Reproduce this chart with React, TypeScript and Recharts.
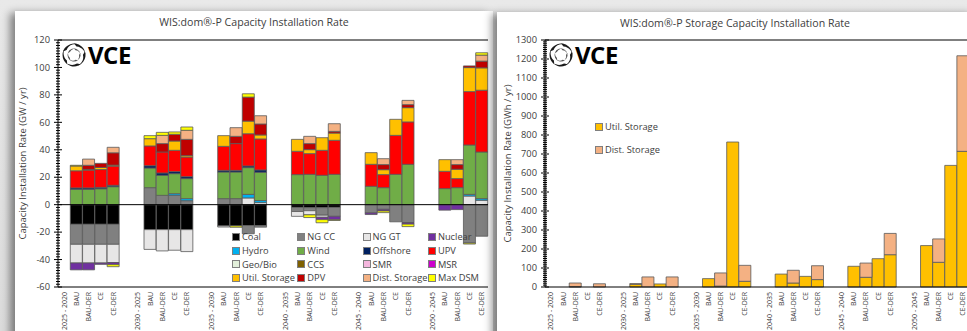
import React from 'react';
import { BarChart, Bar, XAxis, YAxis, ReferenceLine, Legend } from 'recharts';

const periods = ['2025 - 2020', '2030 - 2025', '2035 - 2030', '2040 - 2035', '2045 - 2040', '2050 - 2045'];
const scenarios = ['BAU', 'BAU-DER', 'CE', 'CE-DER'];

// GW / yr, four scenarios per period (BAU, BAU-DER, CE, CE-DER)
const coal = [-14.3, -14.3, -14.3, -14.3, -18.2, -18.2, -18.2, -18.2, -15.5, -15.5, -15.2, -15.2, -2, -2.2, -2.2, -2, 0, 0, 0, 0, 0, 0, 0, 0];
const ngCC = [-14.6, -14.6, -14.6, -14.6, 12.4, 6.8, 6.8, 2.9, 4.4, 4.4, -6, -1.2, -3, -2.2, -5.5, -6.5, -6, -3.4, -12.5, -13, 0, 0, -28, -23];
const ngGT = [-13.6, -13.6, -13.6, -13.3, -14.4, -15.5, -15, -16, -0.8, 0, 4.9, 1.5, -3.5, -3, -1.5, 0, 0, 0, 0, 0, 0, 0, 6.3, 3.2];
const nuclear = [-5, -5, -1, -1.5, 0, 0, 0, 0, 0, 0, 0, 0, 0, 0, -1.7, -2.5, -1.2, -1.2, 0, -1.2, -4, -3.6, 0, 0];
const hydro = [0, 0, 0, 0, 0, 0, 1.2, 1.5, 0, 0, 2.6, 1.5, 0, 0, 0, 0, 0, 0, 0, 0, 0, 0, 1.2, 1.2];
const wind = [11.2, 11.2, 11.6, 13.1, 14.3, 14.6, 14.6, 14.6, 19.4, 19.4, 19.5, 20.6, 21.9, 22.1, 21.4, 22.1, 13.4, 12.4, 22.1, 29.4, 11.7, 12.4, 36, 34];
const offshore = [1, 1, 1, 1, 1.7, 1.7, 1.5, 1.4, 1.2, 1.2, 1.2, 1.7, 0, 0, 0, 0, 0, 0, 0, 0, 0, 0, 0, 0];
const upv = [12.5, 13, 13, 14, 14.4, 15.3, 15.5, 14.3, 17.5, 19.5, 23.5, 22.6, 17, 15.1, 18.2, 24.8, 16, 9.5, 28.4, 30.9, 12.6, 6.6, 38.9, 45];
const geoBio = [0, 0, 0, 0, 0, 0, 0, 0, 0, 0, 0, 0, 0, 0, 0, 0, 0, 0, 0, 0, 0, 0, 0, 0];
const ccs = [0, 0, 0, 0, 0, 0, 0, 0, 0, 0, 0, 0, 0, 0, 0, 0, 0, 0, 0, 0, 0, 0, 0, 0];
const smr = [0, 0, 0, 0, 0, 0, 0, 0, 0, 0, 0, 0, 0, 0, 0, 0, 0, 0, 0, 0, 0, 0, 0, 0];
const msr = [0, 0, 0, 0, 0, 0, 0, 0, 0, 0, 0, 0, 0, 0, 0, 0, 0, 0, 0, 0, 0, 0, 0, 0];
const utilStorage = [3.5, 0.5, 1.5, 0.7, 5.3, 0, 6.8, 1, 7.8, 0, 9.2, 2.9, 8.7, 2.9, 9.2, 5.3, 8.5, 3.6, 11.7, 10.4, 8.5, 6.8, 17.5, 16.3];
const dpv = [0, 3, 3, 9, 0, 6.1, 4.9, 11.9, 0, 5.3, 17.5, 8, 0, 4.4, 0, 1.2, 0, 3.7, 0, 2.2, 0, 3.4, 1.2, 4.9];
const distStorage = [0, 4.5, 0, 4, 0, 6, 0, 6.6, 0, 6.3, 0, 6, 0, 5.3, 0, 5.6, 0, 4.3, 0, 3.1, 0, 3.6, 0, 4.4];
const maxDSM = [0.5, 0, 0, -1.5, 2.2, 2.2, 1.7, 2.4, 0, -1, 2.4, 0, 0, -2, -2.3, -0.5, 0, -1.2, 0, -1.8, 0, 0, -0.7, 1.7];

// GWh / yr
const utilStorageGWh = [0, 2, 0, 0, 14, 0, 16, 0, 44, 5, 763, 30, 68, 21, 56, 39, 109, 51, 149, 170, 218, 130, 640, 714];
const distStorageGWh = [0, 19, 0, 17, 4, 53, 0, 53, 0, 69, 0, 84, 0, 67, 0, 73, 0, 75, 0, 112, 0, 123, 0, 503];

const capacityTicks = Array.from({ length: 91 }, (_, i) => 120 - i * 2);
const storageTicks = Array.from({ length: 131 }, (_, i) => 1300 - i * 10);

type Series = { key: string; name: string; color: string; values: number[] };

const capacitySeries: Series[] = [
  { key: 'coal', name: 'Coal', color: '#000000', values: coal },
  { key: 'ngcc', name: 'NG CC', color: '#808080', values: ngCC },
  { key: 'nggt', name: 'NG GT', color: '#e7e6e6', values: ngGT },
  { key: 'nuclear', name: 'Nuclear', color: '#7030a0', values: nuclear },
  { key: 'hydro', name: 'Hydro', color: '#00b0f0', values: hydro },
  { key: 'wind', name: 'Wind', color: '#70ad47', values: wind },
  { key: 'offshore', name: 'Offshore', color: '#002060', values: offshore },
  { key: 'upv', name: 'UPV', color: '#ff0000', values: upv },
  { key: 'geobio', name: 'Geo/Bio', color: '#e2efda', values: geoBio },
  { key: 'ccs', name: 'CCS', color: '#7f6000', values: ccs },
  { key: 'smr', name: 'SMR', color: '#f4b6dd', values: smr },
  { key: 'msr', name: 'MSR', color: '#cc00cc', values: msr },
  { key: 'util', name: 'Util. Storage', color: '#ffc000', values: utilStorage },
  { key: 'dpv', name: 'DPV', color: '#c00000', values: dpv },
  { key: 'dist', name: 'Dist. Storage', color: '#f4b183', values: distStorage },
  { key: 'dsm', name: 'Max DSM', color: '#ffff00', values: maxDSM },
];

const storageSeries: Series[] = [
  { key: 'util', name: 'Util. Storage', color: '#ffc000', values: utilStorageGWh },
  { key: 'dist', name: 'Dist. Storage', color: '#f4b183', values: distStorageGWh },
];

function buildRows(series: Series[]) {
  const rows: Record<string, any>[] = [];
  periods.forEach((p, g) => {
    rows.push({ name: p });
    scenarios.forEach((s, i) => {
      const row: Record<string, any> = { name: s };
      series.forEach((se) => {
        row[se.key] = se.values[g * 4 + i];
      });
      rows.push(row);
    });
    if (g < periods.length - 1) rows.push({ name: '' });
  });
  return rows;
}

const FONT = 'Open Sans';
const TEXT = '#404040';

const XTick = (props: any) => {
  const { x, y, payload } = props;
  return (
    <text
      transform={`translate(${x + 2.4},${y + 5}) rotate(-90)`}
      textAnchor="end"
      fontSize={7}
      fontFamily={FONT}
      fill={TEXT}
    >
      {payload.value}
    </text>
  );
};

const makeYTick = (major: number) => (props: any) => {
  const { x, y, payload } = props;
  const isMajor = payload.value % major === 0;
  return (
    <g>
      <line x1={isMajor ? x - 4 : x - 2} x2={isMajor ? x + 4 : x + 2} y1={y} y2={y} stroke="#000" strokeWidth={1} />
      {isMajor && (
        <text x={x - 8} y={y} dy="0.35em" textAnchor="end" fontSize={9.3} fontFamily={FONT} fill={TEXT}>
          {payload.value}
        </text>
      )}
    </g>
  );
};

function LegendGrid({ series, cols, colWidth, rowHeight }: { series: Series[]; cols: number; colWidth: number; rowHeight: number }) {
  return (
    <div style={{ position: 'relative', width: cols * colWidth, height: Math.ceil(series.length / cols) * rowHeight }}>
      {series.map((s, i) => (
        <div
          key={s.key}
          style={{
            position: 'absolute',
            left: (i % cols) * colWidth,
            top: Math.floor(i / cols) * rowHeight,
            height: rowHeight,
            display: 'flex',
            alignItems: 'center',
            gap: 2,
            whiteSpace: 'nowrap',
          }}
        >
          <div style={{ width: 6, height: 6, backgroundColor: s.color, border: '0.8px solid #7f7f7f' }} />
          <span style={{ fontFamily: FONT, fontSize: 9.3, color: TEXT }}>{s.name}</span>
        </div>
      ))}
    </div>
  );
}

function VceLogo({ left, top }: { left: number; top: number }) {
  const blades = [0, 72, 144, 216, 288];
  return (
    <svg width={90} height={30} style={{ position: 'absolute', left, top, overflow: 'visible' }}>
      <g transform="translate(12,13)">
        {blades.map((a) => (
          <g key={a} transform={`rotate(${a})`}>
            <path d="M 0 -11.5 A 11.5 11.5 0 0 1 11 3.2 A 9.5 9.5 0 0 0 2.5 -8.6 Z" fill="#1a1a1a" />
            <path d="M 0 -6.5 A 6.5 6.5 0 0 1 6.2 2 A 5.2 5.2 0 0 0 1.5 -4.8 Z" fill="#555" />
          </g>
        ))}
      </g>
      <text x={26} y={22} fontFamily={FONT} fontWeight={700} fontSize={24} fill="#000" letterSpacing={-0.5}>
        VCE
      </text>
    </svg>
  );
}

const capacityRows = buildRows(capacitySeries);
const storageRows = buildRows(storageSeries);

const panelStyle: React.CSSProperties = {
  position: 'absolute',
  backgroundColor: '#fff',
  boxShadow: '-5px 2px 8px rgba(0,0,0,0.45)',
  height: 340,
};

const titleStyle: React.CSSProperties = {
  position: 'absolute',
  top: 4,
  left: 0,
  textAlign: 'center',
  fontFamily: FONT,
  fontSize: 10.6,
  color: TEXT,
};

export default function App() {
  return (
    <div
      style={{
        position: 'fixed',
        left: 0,
        top: 0,
        width: 967,
        height: 331,
        overflow: 'hidden',
        background: 'linear-gradient(to bottom, #e9e9e9, #dcdcdc)',
      }}
    >
      {/* Capacity panel */}
      <div style={{ ...panelStyle, left: 15, top: 11, width: 478 }}>
        <div style={{ ...titleStyle, width: 478 }}>WIS:dom®-P Capacity Installation Rate</div>
        <BarChart
          width={478}
          height={320}
          data={capacityRows}
          stackOffset="sign"
          barCategoryGap={0}
          barGap={0}
          margin={{ top: 29, right: 5, left: 0, bottom: 0 }}
        >
          <XAxis
            dataKey="name"
            interval={0}
            height={44}
            tickSize={0}
            tickMargin={0}
            tick={<XTick />}
            axisLine={{ stroke: '#000' }}
            tickLine={false}
          />
          <YAxis
            domain={[-60, 120]}
            ticks={capacityTicks}
            interval={0}
            width={43}
            tickSize={0}
            tickMargin={0}
            tickLine={false}
            tick={makeYTick(20)}
            axisLine={{ stroke: '#000' }}
            allowDataOverflow
            label={{
              value: 'Capacity Installation Rate (GW / yr)',
              angle: -90,
              position: 'center',
              dx: -14,
              fontSize: 9.5,
              fontFamily: FONT,
              fill: TEXT,
            }}
          />
          <YAxis yAxisId="frame" orientation="right" width={0} domain={[0, 1]} tick={false} tickLine={false} axisLine={{ stroke: '#000' }} />
          <ReferenceLine y={120} stroke="#000" strokeWidth={1} />
          <Legend
            layout="horizontal"
            verticalAlign="middle"
            align="center"
            wrapperStyle={{ left: 217, top: 219 }}
            content={() => <LegendGrid series={capacitySeries} cols={4} colWidth={65.3} rowHeight={13.7} />}
          />
          {capacitySeries.map((s) => (
            <Bar
              key={s.key}
              dataKey={s.key}
              name={s.name}
              stackId="cap"
              fill={s.color}
              stroke="#595959"
              strokeWidth={0.8}
              isAnimationActive={false}
            />
          ))}
          <ReferenceLine y={0} stroke="#000" strokeWidth={1} />
        </BarChart>
        <VceLogo left={47} top={31} />
      </div>

      {/* Storage panel */}
      <div style={{ ...panelStyle, left: 497, top: 12, width: 478 }}>
        <div style={{ ...titleStyle, width: 476 }}>WIS:dom®-P Storage Capacity Installation Rate</div>
        <BarChart
          width={480}
          height={320}
          data={storageRows}
          barCategoryGap={0}
          barGap={0}
          margin={{ top: 28, right: 8, left: 0, bottom: 0 }}
        >
          <XAxis
            dataKey="name"
            interval={0}
            height={45}
            tickSize={0}
            tickMargin={0}
            tick={<XTick />}
            axisLine={{ stroke: '#000' }}
            tickLine={false}
          />
          <YAxis
            domain={[0, 1300]}
            ticks={storageTicks}
            interval={0}
            width={48}
            tickSize={0}
            tickMargin={0}
            tickLine={false}
            tick={makeYTick(100)}
            axisLine={{ stroke: '#000' }}
            label={{
              value: 'Capacity Installation Rate (GWh / yr)',
              angle: -90,
              position: 'center',
              dx: -13,
              fontSize: 9.5,
              fontFamily: FONT,
              fill: TEXT,
            }}
          />
          <ReferenceLine y={1300} stroke="#000" strokeWidth={1} />
          <Legend
            layout="horizontal"
            verticalAlign="middle"
            align="center"
            wrapperStyle={{ left: 98, top: 103 }}
            content={() => <LegendGrid series={storageSeries} cols={1} colWidth={90} rowHeight={23} />}
          />
          {storageSeries.map((s) => (
            <Bar
              key={s.key}
              dataKey={s.key}
              name={s.name}
              stackId="sto"
              fill={s.color}
              stroke="#595959"
              strokeWidth={0.8}
              isAnimationActive={false}
            />
          ))}
        </BarChart>
        <VceLogo left={52} top={30} />
      </div>
    </div>
  );
}
